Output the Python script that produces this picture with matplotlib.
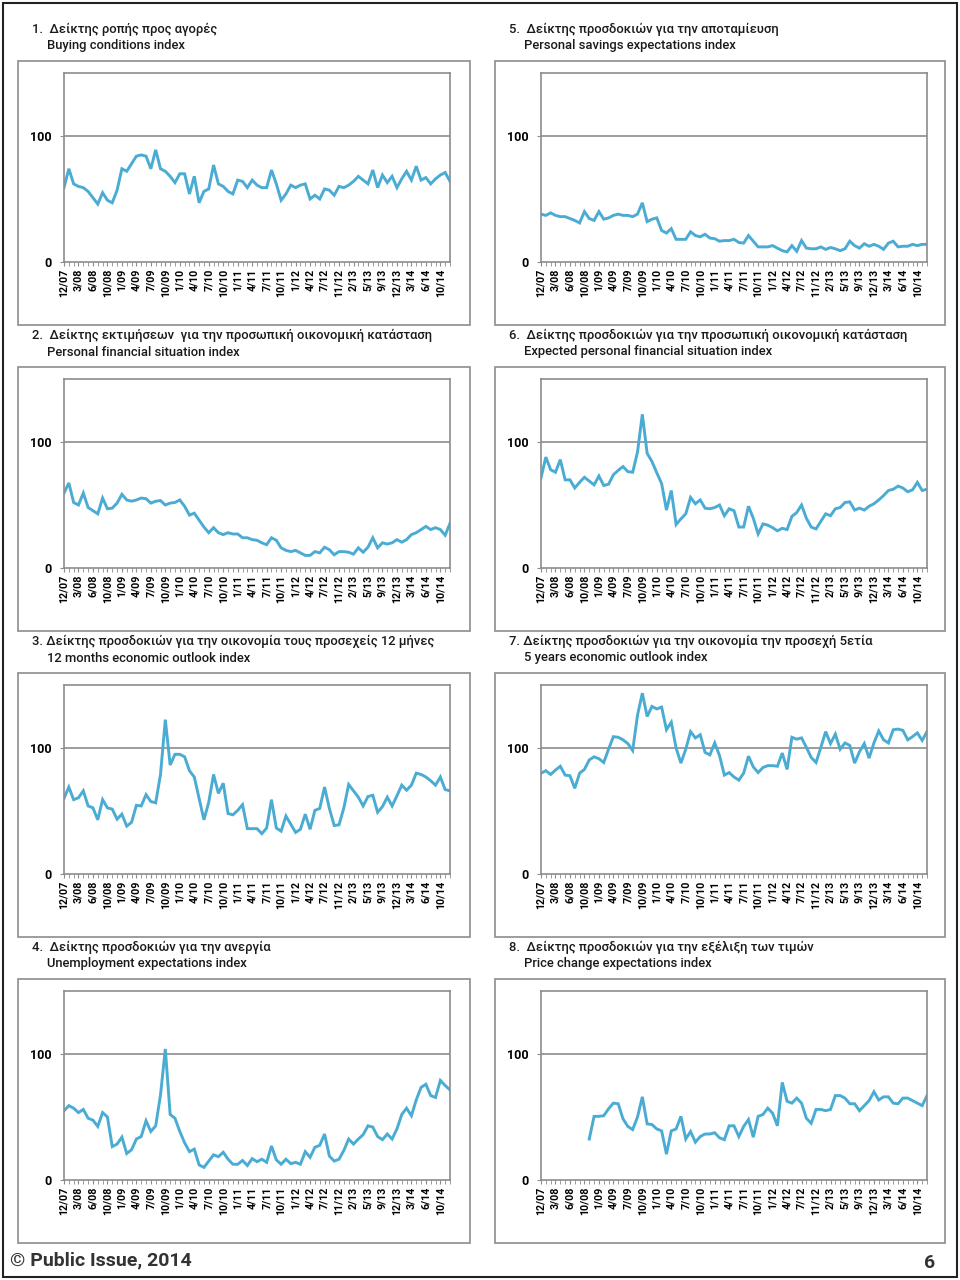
import numpy as np
from matplotlib import pyplot as plt
from matplotlib.patches import Rectangle

plt.rcParams['font.family'] = ['Roboto', 'Noto Sans', 'DejaVu Sans']

# x categories: monthly waves 12/07 .. 12/14, one label every 3 waves
tick_labels = ['12/07', '3/08', '6/08', '10/08', '1/09', '4/09', '7/09', '10/09', '1/10',
               '4/10', '7/10', '10/10', '1/11', '4/11', '7/11', '10/11', '1/12', '4/12',
               '7/12', '11/12', '2/13', '5/13', '9/13', '12/13', '3/14', '6/14', '10/14']
n_points = 81

buying = [59, 74, 62, 60, 59, 56, 51, 46, 55, 49, 47, 57, 74, 72, 78, 84, 85, 84, 74, 89,
          74, 72, 68, 63, 70, 70, 54, 68, 47, 56, 58, 77, 62, 60, 56, 54, 65, 64, 59, 65,
          61, 59, 59, 73, 62, 49, 54, 61, 59, 61, 62, 50, 53, 50, 58, 57, 53, 60, 59, 61,
          64, 68, 65, 62, 73, 59, 69, 63, 68, 59, 66, 72, 65, 76, 65, 67, 62, 66, 69, 71, 64]

personal_fin = [59.5, 67.5, 52, 50, 59.5, 48, 45.5, 43, 55.5, 47, 47.5, 51.5, 58.5, 54, 53, 54,
                55.5, 55, 51.5, 53, 53.5, 50, 51.5, 52, 54, 49, 42, 43.5, 38, 32.5, 28, 32,
                28, 26.5, 28, 27, 27, 24, 24, 22.5, 22, 20, 18.5, 24, 22, 16, 14, 13, 14, 12,
                10, 10, 13, 12, 16.5, 14.5, 10.5, 13, 13, 12.5, 11, 16, 12.5, 16.5, 24, 16, 20,
                19, 20, 22.5, 20.5, 22.5, 26.5, 28, 30.5, 33, 30.5, 32, 30.5, 26, 35.5]

economy_12m = [60, 69, 59, 60.5, 66, 54, 52.5, 43, 59, 52.5, 51.5, 43.5, 47.5, 38, 41, 54.5,
               54, 63, 57.5, 56.5, 79, 122.5, 86.5, 95, 95, 93, 82, 77, 60, 43, 57, 79, 64,
               72, 48, 47, 50.5, 55, 36, 36, 36, 32, 36.5, 59, 36.5, 34, 46, 39.5, 33, 35.5,
               47.5, 35.5, 50.5, 52, 69, 52, 38.5, 39, 52.5, 71, 66, 61, 54, 61.5, 62.5, 49,
               53.5, 61, 54, 62, 70.5, 66.5, 70.5, 80, 79, 77, 74, 70.5, 77, 67, 66]

unemployment = [55, 59, 57, 53.5, 56, 49, 47.5, 42.5, 53.5, 50, 26.5, 28.5, 34, 21, 24, 32.5,
                34.5, 47, 38.5, 43, 67.5, 104, 52, 49, 38.5, 29.5, 22.5, 24.5, 12, 10, 15, 20,
                18.5, 22, 16.5, 12.5, 12.5, 15.5, 11.5, 17, 14.5, 16.5, 14, 27, 16, 12.5, 16.5,
                13, 14, 12.5, 22.5, 18, 26, 27.5, 36.5, 19, 15, 16.5, 23.5, 32.5, 28.5, 32.5,
                36, 43, 42, 34.5, 32, 36.5, 32.5, 40.5, 52, 57, 51, 63.5, 73.5, 76, 67, 65.5,
                79, 75, 71.5]

savings = [38, 37, 39, 37, 36, 36, 34.5, 33, 31, 40, 34.5, 33, 40, 34, 35, 37, 38, 37, 37, 36,
           38, 47, 32, 34, 35, 25, 23, 26.5, 18, 18, 18, 24, 21, 20, 22, 19, 18.5, 16.5, 17,
           17, 18, 15.5, 15, 21, 16.5, 12, 12, 12, 13, 11, 9, 8, 13, 8.5, 17, 11, 10.5, 10.5,
           12, 10, 11.5, 10.5, 9, 10.5, 16.5, 13, 11, 14.5, 12.5, 14, 12.5, 10, 15, 16.5, 12,
           12.5, 12.5, 14, 13, 14, 14]

expected_fin = [71.5, 88, 78, 76, 86, 70, 70, 63.5, 68, 72, 69, 66, 73, 65.5, 66.5, 74, 77.5,
                80.5, 76.5, 76, 92, 122, 91, 84.5, 75.5, 67, 46, 61.5, 34.5, 39, 43, 56, 51,
                54, 47.5, 47, 48, 50, 41.5, 47, 45.5, 32.5, 32.5, 49, 39.5, 27, 35, 34, 32,
                29.5, 31.5, 30.5, 41, 44, 50, 39.5, 32.5, 31, 37, 43, 41.5, 47, 48, 52, 52.5,
                46, 47.5, 46, 49, 51, 54, 57.5, 61.5, 62.5, 65, 63.5, 60.5, 62, 68, 61.5, 62.5]

economy_5y = [80, 82, 79, 82.5, 85.5, 78.5, 78, 68, 80, 83, 90.5, 93, 91.5, 88.5, 99, 109,
              108.5, 106.5, 103.5, 98, 126, 143.5, 125, 133, 131, 132.5, 114.5, 120.5, 100,
              88, 99, 113, 108, 110.5, 96.5, 94.5, 104, 94, 78.5, 80.5, 77, 74.5, 80, 93.5,
              85, 80.5, 84.5, 86, 86, 85.5, 96, 83, 108.5, 107, 108, 100.5, 92.5, 88.5,
              100.5, 113, 103.5, 111, 99, 104, 102, 88, 97, 103.5, 92, 104, 113.5, 106.5,
              104, 114.5, 115, 114, 106.5, 109, 112, 106, 113]

prices = [None] * 10 + [32.5, 50.5, 50.5, 51, 56.5, 61, 60.5, 48.5, 42.5, 40, 50, 66, 44.5,
                        44, 40.5, 39, 20.5, 39, 40.5, 50.5, 32.5, 38.5, 30, 34.5, 36.5, 36.5,
                        37.5, 33.5, 32, 43, 43, 34.5, 42.5, 48, 34, 50.5, 52, 57, 53, 43,
                        77.5, 62.5, 61, 65, 61, 49, 45, 56, 56, 55, 56, 67, 67, 65, 60.5,
                        60.5, 55, 59, 63, 70, 63.5, 66, 66, 61, 60.5, 65, 65, 63, 61, 59, 67]

titles = [
    ('1.  Δείκτης ροπής προς αγορές', 'Buying conditions index'),
    ('2.  Δείκτης εκτιμήσεων  για την προσωπική οικονομική κατάσταση', 'Personal financial situation index'),
    ('3. Δείκτης προσδοκιών για την οικονομία τους προσεχείς 12 μήνες', '12 months economic outlook index'),
    ('4.  Δείκτης προσδοκιών για την ανεργία', 'Unemployment expectations index'),
    ('5.  Δείκτης προσδοκιών για την αποταμίευση', 'Personal savings expectations index'),
    ('6.  Δείκτης προσδοκιών για την προσωπική οικονομική κατάσταση', 'Expected personal financial situation index'),
    ('7. Δείκτης προσδοκιών για την οικονομία την προσεχή 5ετία', '5 years economic outlook index'),
    ('8.  Δείκτης προσδοκιών για την εξέλιξη των τιμών', 'Price change expectations index'),
]
series = [buying, personal_fin, economy_12m, unemployment,
          savings, expected_fin, economy_5y, prices]

W, H = 960, 1280
line_color = '#4BACD3'
frame_gray = '#8c8c8c'

fig = plt.figure(figsize=(9.6, 12.8), dpi=100)
fig.patch.set_facecolor('white')


def px_box(x0, y0, x1, y1):
    # pixel box (top-left origin) -> figure fraction [l, b, w, h]
    return [x0 / W, 1 - y1 / H, (x1 - x0) / W, (y1 - y0) / H]


# page border
fig.add_artist(Rectangle((3 / W, 3 / H), (W - 6) / W, (H - 6) / H, transform=fig.transFigure,
                         fill=False, edgecolor='#222222', linewidth=1.5))

step = 306
cols = [dict(box=(18, 470), plot=(64, 450), t1=32, t2=47),
        dict(box=(495, 945), plot=(541, 927), t1=509, t2=524)]

x = np.arange(n_points)
for i, (vals, (gr, en)) in enumerate(zip(series, titles)):
    col = cols[i // 4]
    row = i % 4
    dy = row * step

    # chart frame
    bx0, bx1 = col['box']
    fig.add_artist(Rectangle((bx0 / W, 1 - (325 + dy) / H), (bx1 - bx0) / W, 264 / H,
                             transform=fig.transFigure, fill=False,
                             edgecolor=frame_gray, linewidth=1.2))
    fig.text(col['t1'] / W, 1 - (29 + dy) / H, gr, fontsize=9.4, color='#1a1a1a',
             fontweight='medium', va='center', ha='left')
    fig.text(col['t2'] / W, 1 - (46 + dy) / H, en, fontsize=9.4, color='#1a1a1a',
             fontweight='medium', va='center', ha='left')

    px0, px1 = col['plot']
    ax = fig.add_axes(px_box(px0, 73 + dy, px1, 262 + dy))
    y = np.array([np.nan if v is None else v for v in vals], dtype=float)
    ax.plot(x, y, color=line_color, linewidth=2.1, solid_joinstyle='miter')
    ax.set_xlim(0, n_points - 1)
    ax.set_ylim(0, 150)
    ax.set_yticks([0, 100])
    ax.set_yticklabels(['0', '100'], fontsize=9, fontweight='bold')
    ax.set_xticks(np.arange(0, n_points, 3)[:len(tick_labels)])
    ax.set_xticklabels(tick_labels, rotation=90, fontsize=7.7, fontweight='bold')
    ax.set_xticks(x, minor=True)
    ax.tick_params(axis='x', which='both', direction='out', length=3, color=frame_gray, pad=2)
    ax.tick_params(axis='y', length=3, color=frame_gray, pad=6)
    ax.axhline(100, color=frame_gray, linewidth=1.2, zorder=0)
    for s in ax.spines.values():
        s.set_color(frame_gray)
        s.set_linewidth(1.2)

fig.text(10 / W, 1 - 1260 / H, '© Public Issue, 2014', fontsize=14, fontweight='bold',
         color='#333333', va='center', ha='left')
fig.text(935 / W, 1 - 1263 / H, '6', fontsize=14, fontweight='bold',
         color='#333333', va='center', ha='right')

plt.savefig('out.png', dpi=100)
